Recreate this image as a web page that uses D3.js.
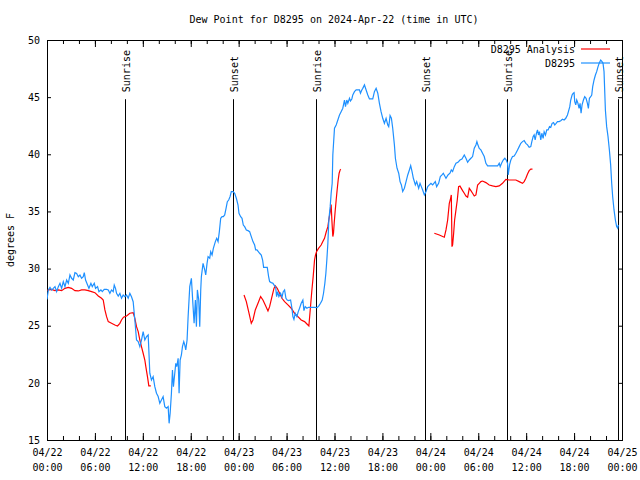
<!DOCTYPE html>
<html><head><meta charset="utf-8">
<script src="https://cdn.jsdelivr.net/npm/d3@7"></script>
<style>body{margin:0;background:#fff}svg{display:block}</style>
</head><body><svg id="c" width="640" height="480"></svg>
<script>
const title = "Dew Point for D8295 on 2024-Apr-22 (time in UTC)";
const yLabel = "degrees F";
const yTicks = [15,20,25,30,35,40,45,50];
const xTickHours = [0,6,12,18,24,30,36,42,48,54,60,66,72];
const xTickDates = ["04/22","04/22","04/22","04/22","04/23","04/23","04/23","04/23","04/24","04/24","04/24","04/24","04/25"];
const xTickTimes = ["00:00","06:00","12:00","18:00","00:00","06:00","12:00","18:00","00:00","06:00","12:00","18:00","00:00"];
const xMinorHours = d3.range(0,73,2);
const sunHours = [9.8,23.33,33.71,47.37,57.64,71.46];
const sunLabels = ["Sunrise","Sunset","Sunrise","Sunset","Sunrise","Sunset"];
const seriesNames = ["D8295 Analysis","D8295"];
const seriesColors = ["#ff0000","#1e90ff"];

// Observations (hours since 04/22 00:00 UTC, deg F)
const obsHours = [0,0.17,0.375,0.58,0.79,1.0,1.21,1.42,1.625,1.83,2.04,2.25,2.46,2.67,2.875,3.08,3.29,3.5,3.71,3.92,4.125,4.33,4.54,4.67,4.83,5.08,5.25,5.5,5.67,5.92,6.08,6.33,6.5,6.75,6.92,7.17,7.46,7.67,7.875,8.08,8.29,8.42,8.58,8.71,8.92,9.125,9.33,9.54,9.75,9.96,10.17,10.375,10.58,10.79,11.0,11.21,11.42,11.625,11.83,12.04,12.25,12.46,12.67,12.875,13.08,13.29,13.5,13.71,13.92,14.125,14.33,14.54,14.75,14.96,15.17,15.29,15.42,15.58,15.71,15.83,16.0,16.125,16.25,16.42,16.54,16.67,16.83,16.96,17.125,17.25,17.375,17.54,17.67,17.875,18.08,18.29,18.42,18.58,18.71,18.83,19.0,19.125,19.25,19.33,19.54,19.75,19.875,20.04,20.17,20.375,20.5,20.67,20.83,21.08,21.25,21.42,21.58,21.75,21.92,22.08,22.25,22.42,22.58,22.75,22.92,23.08,23.29,23.5,23.71,23.92,24.04,24.25,24.42,24.58,24.75,24.96,25.17,25.375,25.58,25.79,26.0,26.125,26.29,26.46,26.625,26.83,27.0,27.125,27.375,27.58,27.75,27.875,28.08,28.29,28.5,28.625,28.75,28.875,29.04,29.25,29.42,29.58,29.75,29.92,30.08,30.25,30.5,30.67,30.79,30.92,31.08,31.29,31.46,31.625,31.83,32.04,32.17,32.33,32.54,32.75,33.08,33.5,33.83,34.04,34.25,34.46,34.625,34.79,34.92,35.04,35.17,35.29,35.46,35.58,35.71,35.79,36.0,36.21,36.625,36.83,37.04,37.25,37.375,37.54,37.67,37.875,38.0,38.17,38.29,38.5,38.71,39.125,39.25,39.42,39.54,39.75,39.96,40.17,40.375,40.79,41.0,41.21,41.42,41.625,41.83,42.04,42.25,42.46,42.67,42.79,42.875,42.96,43.125,43.29,43.5,43.625,43.83,44.04,44.21,44.375,44.54,44.75,44.96,45.17,45.375,45.54,45.71,45.875,46.125,46.29,46.54,46.71,46.875,47.04,47.25,47.46,47.67,47.875,48.08,48.29,48.625,48.79,49.04,49.25,49.46,49.625,49.96,50.21,50.46,50.625,50.79,51.0,51.21,51.46,51.71,51.96,52.25,52.46,52.67,52.875,53.08,53.29,53.5,53.71,53.83,53.92,54.125,54.33,54.54,54.75,54.96,55.17,55.58,56.0,56.42,56.625,56.75,56.92,57.125,57.33,57.5,57.67,57.75,57.92,58.08,58.29,58.5,58.71,58.92,59.125,59.33,59.54,59.75,59.96,60.17,60.375,60.58,60.71,60.875,61.0,61.125,61.29,61.42,61.54,61.67,61.83,61.96,62.125,62.25,62.42,62.58,62.75,62.92,63.08,63.25,63.42,63.58,63.75,63.92,64.125,64.33,64.54,64.75,64.96,65.17,65.29,65.46,65.58,65.75,65.875,66.0,66.08,66.21,66.33,66.46,66.625,66.75,66.875,67.0,67.17,67.33,67.5,67.67,67.79,67.92,68.08,68.21,68.33,68.5,68.67,68.83,69.0,69.17,69.33,69.5,69.625,69.75,69.92,70.08,70.25,70.42,70.58,70.71,70.83,71.0,71.17,71.33,71.46,71.54];
const obsValues = [27.3,28.13,28.36,28.13,28.27,28.42,27.98,28.42,28.71,28.27,28.85,28.42,29.0,28.71,29.44,29.15,29.0,29.64,29.58,29.29,29.44,29.15,29.29,29.64,29.0,28.56,28.27,28.71,28.42,28.71,28.27,28.42,27.98,28.13,27.98,28.18,28.18,28.13,27.83,28.13,27.98,28.56,28.27,27.83,27.6,27.83,27.4,27.69,27.54,27.69,27.4,27.83,27.54,27.1,25.5,23.75,23.61,23.17,23.75,24.48,23.75,24.04,24.19,20.84,20.25,20.55,19.67,19.09,18.8,18.21,18.5,18.8,17.92,17.78,17.92,16.46,17.34,19.09,21.13,19.67,20.84,21.71,21.42,22.15,19.09,22.0,22.44,23.17,23.61,23.32,22.88,23.75,25.79,28.42,29.15,26.67,25.21,27.25,24.92,28.13,27.25,24.92,28.13,29.3,30.46,29.88,29.44,30.46,31.04,30.9,31.48,31.19,31.77,32.36,32.65,32.36,33.23,34.4,34.54,34.54,34.69,35.27,35.85,36.0,36.29,36.73,36.73,36.58,36.15,35.56,34.83,34.54,34.4,33.81,33.67,33.38,33.32,33.23,32.79,32.36,32.06,31.63,31.63,31.48,31.34,31.19,30.75,30.11,30.11,30.11,29.3,28.86,28.77,28.71,28.48,28.42,27.55,27.98,27.55,27.84,27.49,27.98,28.13,27.4,27.25,27.2,27.25,26.53,25.8,25.56,26.09,25.8,26.23,26.53,26.96,27.25,26.32,26.67,26.53,26.61,26.61,26.61,26.58,26.73,26.96,27.25,27.84,28.71,29.59,30.75,32.21,34.25,35.42,36.58,37.46,39.94,42.28,42.57,43.44,43.73,44.03,44.75,44.17,44.75,44.46,44.9,44.67,44.84,45.19,45.48,45.63,45.63,45.34,45.63,45.77,46.07,45.63,45.19,44.84,44.84,45.48,45.77,45.34,44.46,43.73,43.15,42.71,43.15,42.57,42.42,42.86,43.38,43.15,42.28,40.82,39.65,38.78,38.34,37.61,37.32,36.74,37.03,37.61,38.19,38.63,39.01,38.49,37.9,37.32,37.61,37.03,37.46,37.17,36.88,36.44,36.74,37.17,37.32,37.46,37.32,37.61,37.17,37.46,38.05,38.19,38.34,37.9,38.19,38.34,38.63,38.49,38.92,39.21,39.3,39.5,39.59,39.94,39.65,39.3,39.5,39.65,39.8,40.53,40.82,41.11,40.9,40.52,40.38,40.09,39.8,39.21,38.98,38.98,38.98,38.98,39.21,38.92,39.21,39.5,39.65,39.5,39.21,38.19,39.07,39.5,39.8,39.85,40.09,40.38,40.67,40.96,41.11,41.2,40.96,40.82,40.61,40.67,41.11,41.55,41.69,41.25,41.84,42.13,41.69,41.98,41.25,41.84,41.4,41.98,41.69,42.13,42.13,42.42,42.36,42.71,42.77,42.57,42.71,42.86,42.86,42.94,43.06,43.0,43.15,43.44,43.73,44.17,44.75,45.19,45.33,45.39,44.61,44.32,44.75,44.52,44.02,44.46,43.59,44.32,44.75,45.04,44.9,44.46,44.02,44.9,45.04,45.19,45.92,46.5,46.94,47.23,47.67,48.02,48.25,48.1,47.96,47.23,43.88,42.42,41.55,40.38,39.07,37.46,36.3,35.13,34.25,33.67,33.53,33.82];

// Analysis (null = gap)
const anaHours = [0,0.58,1.0,1.42,1.83,2.25,2.67,3.08,3.5,3.92,4.33,4.75,5.17,5.58,6.0,6.42,6.83,7.04,7.25,7.46,7.67,8.08,8.5,8.83,9.125,9.33,9.58,9.96,10.375,10.79,11.0,11.21,11.42,11.625,11.83,12.04,12.25,12.375,12.58,12.75,13.0,
  18,
  24.67,24.96,25.25,25.58,25.79,26.08,26.42,26.75,27.04,27.33,27.67,27.875,28.17,28.42,28.58,28.83,29.125,29.42,29.75,30.17,30.58,31.0,31.42,31.83,32.25,32.58,32.79,32.96,33.17,33.33,33.5,33.625,33.75,34.0,34.33,34.54,34.75,34.96,35.17,35.29,35.46,35.58,35.67,35.79,35.875,35.96,36.08,36.21,36.33,36.46,36.58,36.71,36.79,
  42,
  48.5,49.125,49.75,49.96,50.17,50.375,50.54,50.625,50.67,50.71,50.79,50.92,51.04,51.21,51.375,51.54,51.71,51.875,52.04,52.25,52.46,52.67,52.875,53.08,53.29,53.5,53.71,53.92,54.125,54.33,54.54,54.96,55.375,55.79,56.21,56.625,57.04,57.46,57.875,58.29,58.71,59.125,59.54,59.75,59.96,60.17,60.375,60.58,60.79];
const anaValues = [28.1,28.18,28.07,28.13,28.07,28.27,28.36,28.27,28.07,28.04,28.13,28.13,28.07,27.98,27.89,27.6,27.4,27.25,26.38,25.79,25.36,25.21,25.06,24.98,25.21,25.5,25.74,25.85,26.09,26.14,25.65,24.92,24.48,23.75,23.17,22.59,22.0,21.42,20.55,19.73,19.73,
  null,
  27.69,27.11,26.23,25.21,25.5,26.38,26.96,27.55,27.25,26.82,26.29,26.67,27.55,28.27,28.48,28.27,27.84,27.4,27.11,26.82,26.53,26.09,25.8,25.5,25.36,25.13,24.98,26.38,28.13,29.3,30.75,31.19,31.48,31.77,32.06,32.36,32.65,33.2,33.67,34.26,34.98,35.6,34.26,32.8,33.09,33.96,35.0,36.0,36.88,37.75,38.34,38.63,38.69,
  null,
  33.09,32.94,32.74,33.38,34.25,35.71,36.15,36.44,34.25,31.92,32.07,33.09,34.25,35.13,36.0,37.17,37.23,37.02,36.82,36.59,36.35,36.24,37.02,36.82,36.59,36.35,36.44,37.31,37.46,37.61,37.66,37.52,37.31,37.23,37.17,37.23,37.46,37.81,37.75,37.75,37.75,37.61,37.46,37.61,37.9,38.28,38.57,38.71,38.71];

const FONT = "'DejaVu Sans Mono', monospace";
const svg = d3.select("#c");
svg.append("rect").attr("width",640).attr("height",480).attr("fill","#fff");
const L=47, R=622, T=40, B=440;
const x = d3.scaleLinear().domain([0,72]).range([L,R]);
const y = d3.scaleLinear().domain([15,50]).range([B,T]);

// title
svg.append("text").attr("x",334).attr("y",23).attr("text-anchor","middle")
  .style("font-family",FONT).style("font-size","10px").text(title);
// y label
svg.append("text").attr("transform","translate(10,240) rotate(-90)").attr("text-anchor","middle")
  .attr("dy","0.35em").style("font-family",FONT).style("font-size","10px").text(yLabel);

// axes
function styleAxis(g){ g.select(".domain").remove(); g.selectAll("line").attr("stroke","#000"); g.selectAll("text").style("font-family",FONT).style("font-size","10px").attr("fill","#000"); }
svg.append("g").attr("transform",`translate(0,${B})`).call(d3.axisBottom(x).tickValues(xMinorHours).tickSize(-4).tickFormat("")).call(styleAxis);
svg.append("g").attr("transform",`translate(0,${T})`).call(d3.axisTop(x).tickValues(xMinorHours).tickSize(-4).tickFormat("")).call(styleAxis);
const xl = svg.append("g").attr("transform",`translate(0,${B})`)
  .call(d3.axisBottom(x).tickValues(xTickHours).tickSize(-7).tickPadding(0).tickFormat(""))
  .call(styleAxis);
xl.selectAll(".tick").each(function(d,i){
  const t=d3.select(this).append("text").attr("text-anchor","middle").style("font-family",FONT).style("font-size","10px").attr("fill","#000");
  t.append("tspan").attr("x",0).attr("y",16).text(xTickDates[i]);
  t.append("tspan").attr("x",0).attr("y",31).text(xTickTimes[i]);
});
svg.append("g").attr("transform",`translate(0,${T})`).call(d3.axisTop(x).tickValues(xTickHours).tickSize(-7).tickFormat("")).call(styleAxis);
svg.append("g").attr("transform",`translate(${L},0)`).call(d3.axisLeft(y).tickValues(yTicks).tickSize(-4).tickPadding(7).tickFormat(d3.format("d"))).call(styleAxis);
svg.append("g").attr("transform",`translate(${R},0)`).call(d3.axisRight(y).tickValues(yTicks).tickSize(-4).tickFormat("")).call(styleAxis);

// frame
svg.append("rect").attr("x",L).attr("y",T).attr("width",R-L).attr("height",B-T).attr("fill","none").attr("stroke","#000").attr("stroke-width",1).attr("shape-rendering","crispEdges");

// sunrise / sunset
const sunTop = B - 0.852*(B-T);
svg.append("g").selectAll("line").data(sunHours).join("line")
  .attr("x1",d=>Math.round(x(d))+0.5).attr("x2",d=>Math.round(x(d))+0.5).attr("y1",sunTop).attr("y2",B)
  .attr("stroke","#000").attr("stroke-width",1);
svg.append("g").selectAll("text").data(sunHours).join("text")
  .attr("transform",d=>`translate(${Math.round(x(d))+1.5},${sunTop-7}) rotate(-90)`)
  .attr("dy","0.35em").style("font-family",FONT).style("font-size","10px").text((d,i)=>sunLabels[i]);

// clip
svg.append("clipPath").attr("id","clip").append("rect").attr("x",L).attr("y",T).attr("width",R-L).attr("height",B-T);

const line = d3.line().defined(d=>d[1]!==null).x(d=>x(d[0])).y(d=>y(d[1]));
const obs = obsHours.map((h,i)=>[h,obsValues[i]]);
const ana = anaHours.map((h,i)=>[h,anaValues[i]]);
const pg = svg.append("g").attr("clip-path","url(#clip)");
pg.append("path").datum(ana).attr("d",line).attr("fill","none").attr("stroke",seriesColors[0]).attr("stroke-width",1.2);
pg.append("path").datum(obs).attr("d",line).attr("fill","none").attr("stroke",seriesColors[1]).attr("stroke-width",1.2);

// legend
const lg = svg.append("g");
seriesNames.forEach((n,i)=>{
  const yy = 49 + i*14;
  lg.append("text").attr("x",575).attr("y",yy).attr("dy","0.35em").attr("text-anchor","end")
    .style("font-family",FONT).style("font-size","10px").text(n);
  lg.append("line").attr("x1",581).attr("x2",610).attr("y1",yy).attr("y2",yy).attr("stroke",seriesColors[i]).attr("stroke-width",1.2);
});
</script></body></html>
